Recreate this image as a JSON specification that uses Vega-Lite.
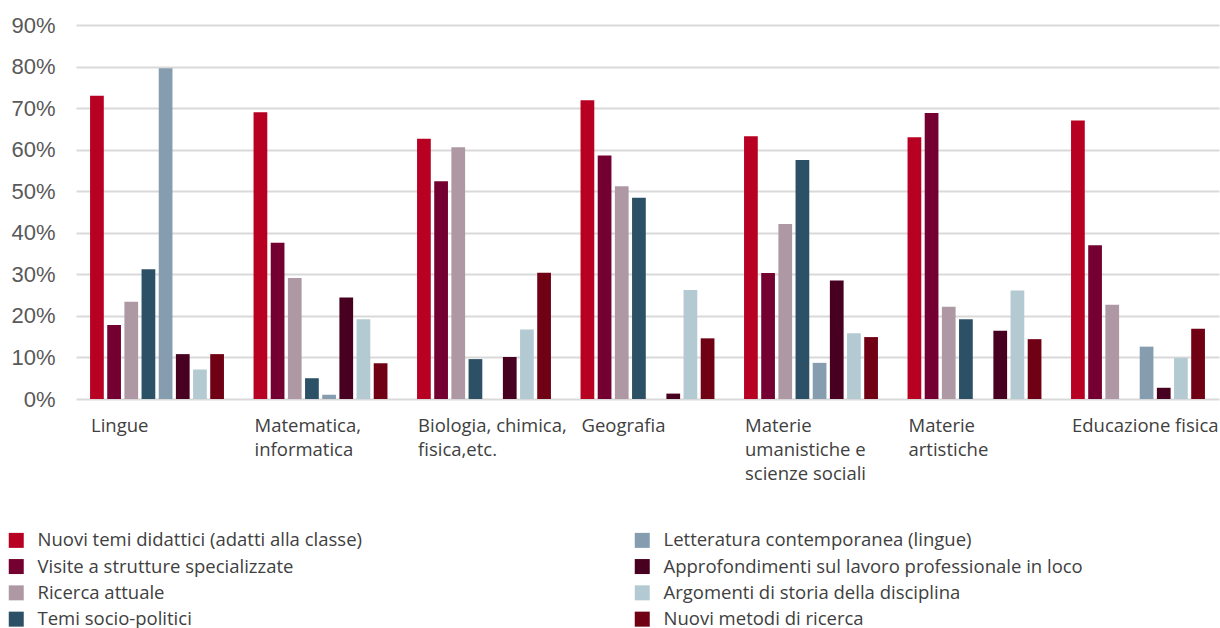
{
  "$schema": "https://vega.github.io/schema/vega-lite/v6.json",
  "width": 1143,
  "height": 374,
  "autosize": {"type": "none"},
  "padding": {"left": 76, "top": 25, "right": 1, "bottom": 229},
  "background": "white",
  "config": {
    "view": {"stroke": null},
    "font": "Open Sans"
  },
  "data": {
    "values": [
      {"fach": "Lingue", "tema": "Nuovi temi didattici (adatti alla classe)", "pct": 73.0},
      {"fach": "Lingue", "tema": "Visite a strutture specializzate", "pct": 17.8},
      {"fach": "Lingue", "tema": "Ricerca attuale", "pct": 23.4},
      {"fach": "Lingue", "tema": "Temi socio-politici", "pct": 31.2},
      {"fach": "Lingue", "tema": "Letteratura contemporanea (lingue)", "pct": 79.6},
      {"fach": "Lingue", "tema": "Approfondimenti sul lavoro professionale in loco", "pct": 10.8},
      {"fach": "Lingue", "tema": "Argomenti di storia della disciplina", "pct": 7.1},
      {"fach": "Lingue", "tema": "Nuovi metodi di ricerca", "pct": 10.8},

      {"fach": "Matematica, informatica", "tema": "Nuovi temi didattici (adatti alla classe)", "pct": 69.0},
      {"fach": "Matematica, informatica", "tema": "Visite a strutture specializzate", "pct": 37.6},
      {"fach": "Matematica, informatica", "tema": "Ricerca attuale", "pct": 29.1},
      {"fach": "Matematica, informatica", "tema": "Temi socio-politici", "pct": 5.0},
      {"fach": "Matematica, informatica", "tema": "Letteratura contemporanea (lingue)", "pct": 1.0},
      {"fach": "Matematica, informatica", "tema": "Approfondimenti sul lavoro professionale in loco", "pct": 24.4},
      {"fach": "Matematica, informatica", "tema": "Argomenti di storia della disciplina", "pct": 19.2},
      {"fach": "Matematica, informatica", "tema": "Nuovi metodi di ricerca", "pct": 8.6},

      {"fach": "Biologia, chimica, fisica,etc.", "tema": "Nuovi temi didattici (adatti alla classe)", "pct": 62.6},
      {"fach": "Biologia, chimica, fisica,etc.", "tema": "Visite a strutture specializzate", "pct": 52.4},
      {"fach": "Biologia, chimica, fisica,etc.", "tema": "Ricerca attuale", "pct": 60.6},
      {"fach": "Biologia, chimica, fisica,etc.", "tema": "Temi socio-politici", "pct": 9.6},
      {"fach": "Biologia, chimica, fisica,etc.", "tema": "Approfondimenti sul lavoro professionale in loco", "pct": 10.1},
      {"fach": "Biologia, chimica, fisica,etc.", "tema": "Argomenti di storia della disciplina", "pct": 16.7},
      {"fach": "Biologia, chimica, fisica,etc.", "tema": "Nuovi metodi di ricerca", "pct": 30.4},

      {"fach": "Geografia", "tema": "Nuovi temi didattici (adatti alla classe)", "pct": 71.9},
      {"fach": "Geografia", "tema": "Visite a strutture specializzate", "pct": 58.6},
      {"fach": "Geografia", "tema": "Ricerca attuale", "pct": 51.2},
      {"fach": "Geografia", "tema": "Temi socio-politici", "pct": 48.4},
      {"fach": "Geografia", "tema": "Approfondimenti sul lavoro professionale in loco", "pct": 1.3},
      {"fach": "Geografia", "tema": "Argomenti di storia della disciplina", "pct": 26.2},
      {"fach": "Geografia", "tema": "Nuovi metodi di ricerca", "pct": 14.6},

      {"fach": "Materie umanistiche e scienze sociali", "tema": "Nuovi temi didattici (adatti alla classe)", "pct": 63.2},
      {"fach": "Materie umanistiche e scienze sociali", "tema": "Visite a strutture specializzate", "pct": 30.3},
      {"fach": "Materie umanistiche e scienze sociali", "tema": "Ricerca attuale", "pct": 42.1},
      {"fach": "Materie umanistiche e scienze sociali", "tema": "Temi socio-politici", "pct": 57.5},
      {"fach": "Materie umanistiche e scienze sociali", "tema": "Letteratura contemporanea (lingue)", "pct": 8.7},
      {"fach": "Materie umanistiche e scienze sociali", "tema": "Approfondimenti sul lavoro professionale in loco", "pct": 28.5},
      {"fach": "Materie umanistiche e scienze sociali", "tema": "Argomenti di storia della disciplina", "pct": 15.8},
      {"fach": "Materie umanistiche e scienze sociali", "tema": "Nuovi metodi di ricerca", "pct": 14.9},

      {"fach": "Materie artistiche", "tema": "Nuovi temi didattici (adatti alla classe)", "pct": 63.0},
      {"fach": "Materie artistiche", "tema": "Visite a strutture specializzate", "pct": 68.8},
      {"fach": "Materie artistiche", "tema": "Ricerca attuale", "pct": 22.2},
      {"fach": "Materie artistiche", "tema": "Temi socio-politici", "pct": 19.2},
      {"fach": "Materie artistiche", "tema": "Approfondimenti sul lavoro professionale in loco", "pct": 16.4},
      {"fach": "Materie artistiche", "tema": "Argomenti di storia della disciplina", "pct": 26.1},
      {"fach": "Materie artistiche", "tema": "Nuovi metodi di ricerca", "pct": 14.4},

      {"fach": "Educazione fisica", "tema": "Nuovi temi didattici (adatti alla classe)", "pct": 67.0},
      {"fach": "Educazione fisica", "tema": "Visite a strutture specializzate", "pct": 37.0},
      {"fach": "Educazione fisica", "tema": "Ricerca attuale", "pct": 22.7},
      {"fach": "Educazione fisica", "tema": "Letteratura contemporanea (lingue)", "pct": 12.6},
      {"fach": "Educazione fisica", "tema": "Approfondimenti sul lavoro professionale in loco", "pct": 2.7},
      {"fach": "Educazione fisica", "tema": "Argomenti di storia della disciplina", "pct": 9.9},
      {"fach": "Educazione fisica", "tema": "Nuovi metodi di ricerca", "pct": 16.9}
    ]
  },
  "mark": {"type": "bar"},
  "encoding": {
    "x": {
      "field": "fach",
      "type": "nominal",
      "sort": ["Lingue", "Matematica, informatica", "Biologia, chimica, fisica,etc.", "Geografia", "Materie umanistiche e scienze sociali", "Materie artistiche", "Educazione fisica"],
      "scale": {"paddingInner": 0.181, "paddingOuter": 0.086},
      "axis": {
        "title": null,
        "domain": false,
        "ticks": false,
        "labelAngle": 0,
        "labelAlign": "left",
        "labelBaseline": "top",
        "labelOffset": -66,
        "labelPadding": 17,
        "labelFont": "Open Sans",
        "labelFontSize": 18.5,
        "labelColor": "#404040",
        "labelLineHeight": 24,
        "labelLimit": 0,
        "labelOverlap": false,
        "labelBound": false,
        "labelFlush": false,
        "labelExpr": "datum.value == 'Matematica, informatica' ? ['Matematica,', 'informatica'] : datum.value == 'Biologia, chimica, fisica,etc.' ? ['Biologia, chimica,', 'fisica,etc.'] : datum.value == 'Materie umanistiche e scienze sociali' ? ['Materie', 'umanistiche e', 'scienze sociali'] : datum.value == 'Materie artistiche' ? ['Materie', 'artistiche'] : datum.label"
      }
    },
    "xOffset": {
      "field": "tema",
      "type": "nominal",
      "scale": {
        "domain": ["Nuovi temi didattici (adatti alla classe)", "Visite a strutture specializzate", "Ricerca attuale", "Temi socio-politici", "Letteratura contemporanea (lingue)", "Approfondimenti sul lavoro professionale in loco", "Argomenti di storia della disciplina", "Nuovi metodi di ricerca"],
        "paddingInner": 0.2,
        "paddingOuter": 0
      }
    },
    "y": {
      "field": "pct",
      "type": "quantitative",
      "scale": {"domain": [0, 90], "nice": false},
      "axis": {
        "title": null,
        "domain": false,
        "ticks": false,
        "values": [0, 10, 20, 30, 40, 50, 60, 70, 80, 90],
        "labelExpr": "datum.value + '%'",
        "labelFont": "Liberation Sans",
        "labelFontSize": 22,
        "labelColor": "#595959",
        "labelPadding": 21,
        "gridColor": "#d9d9d9",
        "gridWidth": 2
      }
    },
    "color": {
      "field": "tema",
      "type": "nominal",
      "scale": {
        "domain": ["Nuovi temi didattici (adatti alla classe)", "Letteratura contemporanea (lingue)", "Visite a strutture specializzate", "Approfondimenti sul lavoro professionale in loco", "Ricerca attuale", "Argomenti di storia della disciplina", "Temi socio-politici", "Nuovi metodi di ricerca"],
        "range": ["#b80022", "#869db0", "#730030", "#480020", "#ae98a4", "#b4cad3", "#2c5066", "#700014"]
      },
      "legend": {
        "title": null,
        "orient": "none",
        "legendX": -69,
        "legendY": 506,
        "direction": "horizontal",
        "columns": 2,
        "columnPadding": 271,
        "rowPadding": 7.3,
        "symbolType": "square",
        "symbolSize": 225,
        "symbolStrokeWidth": 0,
        "symbolOpacity": 1,
        "labelOffset": 12,
        "labelFont": "Open Sans",
        "labelFontSize": 18.5,
        "labelColor": "#404040",
        "labelLimit": 0
      }
    }
  }
}
